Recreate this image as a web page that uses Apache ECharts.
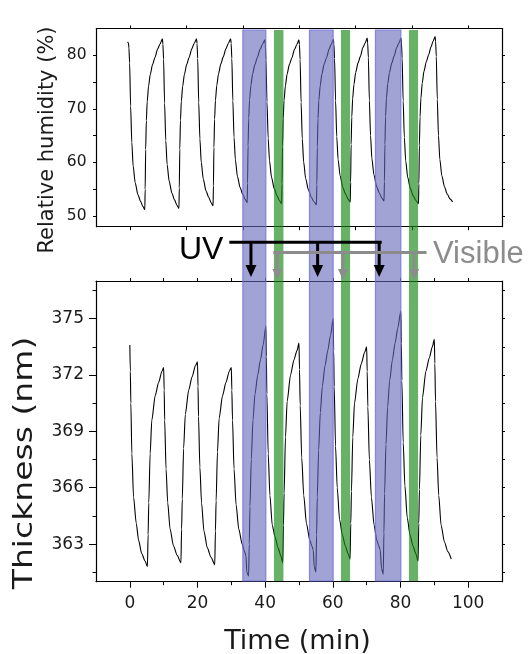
<!DOCTYPE html>
<html>
<head>
<meta charset="utf-8">
<script src="https://cdn.jsdelivr.net/npm/echarts@6/dist/echarts.min.js"></script>
<style>
  html, body { margin: 0; padding: 0; background: #ffffff; }
  #chart { width: 530px; height: 654px; }
</style>
</head>
<body>
<div id="chart"></div>
<script>
// Relative humidity (%) vs time (min)
const humidityData = [
  [-0.8, 82.5], [-0.55, 82.3], [-0.4, 81.4], [-0.2, 78.6], [0.1, 70.5], [0.45, 63.7], [0.85, 59.3], [1.45, 56.2], [2.25, 54.0], [3.0, 52.8], [3.7, 51.8], [4.3, 51.2],
  [4.4, 55.0], [4.55, 62.4], [4.75, 67.8], [5.0, 71.3], [5.4, 74.2], [5.9, 76.4], [6.6, 78.3], [7.3, 79.6], [8.1, 81.2], [8.8, 82.1], [9.5, 83.1],
  [9.65, 82.1], [9.85, 79.3], [10.15, 71.1], [10.5, 64.1], [10.9, 59.6], [11.5, 56.5], [12.3, 54.3], [13.1, 53.0], [13.8, 52.0], [14.4, 51.4],
  [14.5, 55.2], [14.65, 62.5], [14.85, 67.9], [15.1, 71.4], [15.5, 74.2], [16.0, 76.4], [16.7, 78.3], [17.4, 79.6], [18.2, 81.2], [18.9, 82.2], [19.6, 83.1],
  [19.75, 82.2], [19.95, 79.4], [20.25, 71.2], [20.6, 64.4], [21.0, 60.0], [21.6, 56.9], [22.4, 54.7], [23.2, 53.5], [23.9, 52.5], [24.5, 51.9],
  [24.6, 55.6], [24.75, 62.8], [24.95, 68.1], [25.2, 71.6], [25.6, 74.4], [26.1, 76.5], [26.8, 78.4], [27.5, 79.7], [28.3, 81.2], [29.0, 82.2], [29.7, 83.1],
  [29.85, 82.2], [30.05, 79.4], [30.35, 71.5], [30.7, 64.7], [31.1, 60.5], [31.7, 57.4], [32.5, 55.3], [33.3, 54.0], [34.0, 53.1], [34.6, 52.5],
  [34.7, 56.1], [34.85, 63.1], [35.05, 68.3], [35.3, 71.7], [35.7, 74.4], [36.2, 76.5], [36.9, 78.3], [37.6, 79.6], [38.4, 81.1], [39.1, 82.0], [39.8, 82.9],
  [39.95, 82.0], [40.15, 79.2], [40.45, 71.3], [40.8, 64.5], [41.2, 60.3], [41.8, 57.2], [42.6, 55.1], [43.4, 53.8], [44.1, 52.9], [44.8, 52.3],
  [44.9, 56.0], [45.05, 63.0], [45.25, 68.2], [45.5, 71.6], [45.9, 74.3], [46.4, 76.5], [47.1, 78.3], [47.8, 79.5], [48.6, 81.1], [49.3, 82.0], [49.9, 82.9],
  [50.05, 82.0], [50.25, 79.2], [50.55, 71.2], [50.9, 64.4], [51.3, 60.1], [51.9, 57.0], [52.7, 54.9], [53.5, 53.6], [54.3, 52.7], [55.1, 52.1],
  [55.2, 55.8], [55.35, 62.9], [55.55, 68.2], [55.8, 71.6], [56.2, 74.3], [56.7, 76.5], [57.4, 78.4], [58.1, 79.6], [58.8, 81.1], [59.5, 82.1], [60.1, 83.0],
  [60.25, 82.1], [60.45, 79.4], [60.75, 71.5], [61.1, 64.8], [61.5, 60.5], [62.1, 57.5], [62.9, 55.3], [63.7, 54.1], [64.4, 53.2], [65.1, 52.6],
  [65.2, 56.3], [65.35, 63.3], [65.55, 68.5], [65.8, 71.9], [66.2, 74.6], [66.7, 76.8], [67.4, 78.6], [68.1, 79.8], [68.8, 81.4], [69.5, 82.3], [70.1, 83.2],
  [70.25, 82.3], [70.45, 79.6], [70.75, 71.6], [71.1, 65.0], [71.5, 60.7], [72.1, 57.7], [72.9, 55.5], [73.7, 54.3], [74.4, 53.4], [75.1, 52.8],
  [75.2, 56.4], [75.35, 63.4], [75.55, 68.6], [75.8, 72.0], [76.2, 74.7], [76.7, 76.8], [77.4, 78.6], [78.1, 79.9], [78.8, 81.4], [79.5, 82.3], [80.1, 83.2],
  [80.25, 82.3], [80.45, 79.5], [80.75, 71.5], [81.1, 64.7], [81.5, 60.3], [82.1, 57.2], [82.9, 55.1], [83.7, 53.8], [84.5, 52.9], [85.3, 52.3],
  [85.4, 56.0], [85.55, 63.2], [85.75, 68.5], [86.0, 72.0], [86.4, 74.8], [86.9, 77.0], [87.6, 78.8], [88.3, 80.1], [89.0, 81.6], [89.6, 82.6], [90.2, 83.5],
  [90.35, 82.6], [90.55, 79.8], [90.85, 71.8], [91.2, 65.0], [91.6, 60.6], [92.2, 57.5], [93.0, 55.4], [93.8, 54.1], [94.6, 53.2], [95.4, 52.6]
];

// Film thickness (nm) vs time (min)
const thicknessData = [
  [0, 373.6], [0.15, 372.2], [0.3, 370.5], [0.6, 367.8], [1.1, 365.5], [1.9, 364.1], [2.6, 363.2], [3.5, 362.5], [4.5, 362.1], [5.2, 361.8],
  [5.4, 363.5], [5.6, 365.2], [6.0, 367.8], [6.5, 369.6], [7.5, 370.9], [8.5, 371.6], [9.5, 372.2], [10.0, 372.4],
  [10.15, 371.2], [10.3, 369.6], [10.7, 367.0], [11.2, 365.2], [11.9, 363.8], [12.9, 362.9], [14.0, 362.4], [15.1, 362.0],
  [15.3, 363.8], [15.5, 365.4], [15.9, 368.1], [16.4, 369.9], [17.4, 371.2], [18.4, 371.9], [19.4, 372.5], [20.0, 372.7],
  [20.15, 371.4], [20.3, 369.8], [20.7, 367.1], [21.2, 365.2], [21.9, 363.7], [22.9, 362.8], [24.0, 362.3], [25.1, 361.9],
  [25.3, 363.7], [25.5, 365.3], [25.9, 367.9], [26.4, 369.7], [27.4, 370.9], [28.4, 371.6], [29.4, 372.2], [30.0, 372.4],
  [30.15, 371.2], [30.35, 369.6], [30.8, 367.0], [31.4, 365.1], [32.2, 363.8], [33.2, 363.0], [33.9, 362.6], [34.3, 362.4], [34.6, 361.5], [35.1, 361.3],
  [35.3, 363.0], [35.5, 365.0], [35.9, 367.5], [36.4, 369.6], [37.0, 371.0], [37.8, 372.0], [38.6, 372.8], [39.4, 373.6], [40.2, 374.6],
  [40.35, 373.0], [40.5, 371.0], [40.9, 367.8], [41.4, 365.6], [42.1, 364.0], [42.9, 363.4], [43.8, 362.8], [44.6, 362.4], [45.2, 362.0],
  [45.4, 364.0], [45.6, 365.7], [46.0, 368.7], [46.5, 370.6], [47.5, 372.0], [48.5, 372.8], [49.4, 373.3], [50.0, 373.7],
  [50.15, 372.3], [50.35, 370.4], [50.8, 367.6], [51.4, 365.6], [52.2, 364.1], [53.2, 363.2], [53.8, 362.9], [54.2, 362.7], [54.5, 361.8], [55.0, 361.5],
  [55.2, 363.5], [55.4, 365.5], [55.8, 368.0], [56.3, 370.0], [56.9, 371.4], [57.7, 372.5], [58.5, 373.3], [59.3, 374.1], [60.1, 375.0],
  [60.25, 373.3], [60.4, 371.4], [60.8, 368.2], [61.3, 366.0], [62.0, 364.3], [62.8, 363.5], [63.7, 362.9], [64.5, 362.5], [65.1, 362.2],
  [65.3, 364.1], [65.5, 365.8], [65.9, 368.7], [66.4, 370.5], [67.4, 371.8], [68.4, 372.6], [69.4, 373.2], [70.0, 373.5],
  [70.15, 372.2], [70.35, 370.3], [70.8, 367.5], [71.4, 365.5], [72.2, 364.0], [73.0, 363.2], [73.6, 362.9], [74.0, 362.7], [74.4, 361.7], [74.9, 361.4],
  [75.1, 363.6], [75.3, 365.7], [75.7, 368.3], [76.2, 370.3], [76.8, 371.7], [77.6, 372.8], [78.4, 373.7], [79.2, 374.5], [80.1, 375.4],
  [80.25, 373.7], [80.4, 371.7], [80.8, 368.4], [81.3, 366.1], [82.0, 364.4], [82.8, 363.5], [83.7, 362.9], [84.5, 362.5], [85.2, 362.1],
  [85.4, 364.1], [85.6, 365.9], [86.0, 368.8], [86.5, 370.8], [87.5, 372.2], [88.5, 372.9], [89.4, 373.5], [90.0, 373.9],
  [90.15, 372.6], [90.35, 370.6], [90.8, 367.6], [91.3, 365.6], [92.0, 364.0], [93.0, 363.1], [94.0, 362.6], [95.0, 362.2]
];

// Illumination periods (min)
const uvBands = [[33.4, 40.2], [53.1, 60.1], [72.6, 80.1]];
const visibleBands = [[42.6, 45.4], [62.4, 65.1], [82.5, 85.2]];
const uvArrowTimes = [35.8, 55.5, 73.7];
const visibleArrowTimes = [43.6, 63.0, 84.0];
const uvLineSpan = [29.4, 74.0];
const visibleLineSpan = [42.4, 87.7];

// Ticks
const timeLabels = [0, 20, 40, 60, 80, 100];
const timeMinor = [10, 30, 50, 70, 90];
const timeTop = [0, 10, 20, 30, 40, 50, 60, 70, 80, 90, 100];
const humidityTimeTicksSec = [0, 1000, 2000, 3000, 4000, 5000, 6000];
const humidityLabels = [50, 60, 70, 80];
const humidityTicks = [50, 55, 60, 65, 70, 75, 80];
const thicknessLabels = [363, 366, 369, 372, 375];
const thicknessMinor = [361.5, 364.5, 367.5, 370.5, 373.5, 376.5];
const thicknessAll = [361.5, 363, 364.5, 366, 367.5, 369, 370.5, 372, 373.5, 375, 376.5];

const TIME_MIN = -10, TIME_MAX = 110;
const FONT = 'DejaVu Sans';
const INK = '#1a1a1a';

function tickAxis(gridIndex, position, min, max, ticks, len, showLine) {
  return {
    type: 'value', gridIndex, position, min, max,
    axisLine: { show: showLine, onZero: false, lineStyle: { color: '#000', width: 1.2 } },
    axisTick: { show: true, inside: false, length: len, customValues: ticks, lineStyle: { color: '#000', width: 1 } },
    axisLabel: { show: false },
    splitLine: { show: false }
  };
}
function withLabels(axis, values, fontSize, margin) {
  axis.axisLabel = { show: true, customValues: values, fontSize, fontFamily: FONT, color: INK, margin };
  return axis;
}

const chart = echarts.init(document.getElementById('chart'), null, { renderer: 'canvas' });

const xAxes = [
  tickAxis(0, 'bottom', TIME_MIN, TIME_MAX, humidityTimeTicksSec.map(s => s / 60), 3.5, true),
  tickAxis(0, 'top', TIME_MIN, TIME_MAX, humidityTimeTicksSec.map(s => s / 60), 3, true),
  withLabels(tickAxis(1, 'bottom', TIME_MIN, TIME_MAX, timeLabels, 6, true), timeLabels, 17, 13),
  tickAxis(1, 'bottom', TIME_MIN, TIME_MAX, timeMinor, 3.5, false),
  tickAxis(1, 'top', TIME_MIN, TIME_MAX, timeTop, 3, true),
  { type: 'value', gridIndex: 2, min: TIME_MIN, max: TIME_MAX, show: false }
];
const yAxes = [
  withLabels(tickAxis(0, 'left', 48, 85, humidityTicks, 3.5, true), humidityLabels, 15.5, 10),
  tickAxis(0, 'right', 48, 85, humidityTicks, 3, true),
  withLabels(tickAxis(1, 'left', 361, 377, thicknessLabels, 7, true), thicknessLabels, 17, 12),
  tickAxis(1, 'left', 361, 377, thicknessMinor, 3.5, false),
  tickAxis(1, 'right', 361, 377, thicknessAll, 3, true),
  { type: 'value', gridIndex: 2, min: 0, max: 1, show: false }
];

function bandSeries(bands, fill, stroke, z) {
  return {
    type: 'custom', xAxisIndex: 5, yAxisIndex: 5, z, silent: true, clip: false,
    dimensions: ['start', 'end'],
    encode: { x: [0, 1] },
    data: bands,
    renderItem(params, api) {
      const a = api.coord([api.value(0), 1]);
      const b = api.coord([api.value(1), 0]);
      return {
        type: 'rect',
        shape: { x: a[0], y: a[1], width: b[0] - a[0], height: b[1] - a[1] },
        style: { fill, stroke, lineWidth: stroke ? 1.2 : 0 }
      };
    }
  };
}

function traceSeries(xIdx, yIdx, data) {
  return {
    type: 'line', xAxisIndex: xIdx, yAxisIndex: yIdx, data, showSymbol: false,
    smooth: 0.25, smoothMonotone: 'x',
    lineStyle: { color: '#000', width: 1.1 }, z: 2, silent: true
  };
}

chart.setOption({
  animation: false,
  backgroundColor: '#ffffff',
  grid: [
    { left: 96.5, right: 28, top: 28.5, height: 198.2 },
    { left: 96, right: 28, top: 281, height: 300.7 },
    { left: 96, right: 28, top: 30, height: 551 }
  ],
  xAxis: xAxes,
  yAxis: yAxes,
  series: [
    traceSeries(0, 0, humidityData),
    traceSeries(2, 2, thicknessData),
    bandSeries(uvBands, 'rgba(97,102,183,0.6)', 'rgba(110,115,225,0.8)', 5),
    bandSeries(visibleBands, 'rgba(23,137,23,0.65)', null, 5)
  ]
});

// Light-source arrows and labels
function px(t) { return chart.convertToPixel({ xAxisIndex: 5 }, t); }

const BLACK = '#000000';
const GREY = '#8c8c8c';
const graphics = [];
const uvY = 242.3, visY = 252.5;

graphics.push({ type: 'line', z: 100, shape: { x1: px(uvLineSpan[0]), y1: uvY, x2: px(uvLineSpan[1]) + 1.5, y2: uvY }, style: { stroke: BLACK, lineWidth: 3 } });
uvArrowTimes.forEach(t => {
  const x = px(t);
  graphics.push({ type: 'line', z: 100, shape: { x1: x, y1: uvY, x2: x, y2: 266 }, style: { stroke: BLACK, lineWidth: 3 } });
  graphics.push({ type: 'polygon', z: 100, shape: { points: [[x - 5.5, 265], [x + 5.5, 265], [x, 277]] }, style: { fill: BLACK } });
});
graphics.push({ type: 'line', z: 101, shape: { x1: px(visibleLineSpan[0]), y1: visY, x2: px(visibleLineSpan[1]), y2: visY }, style: { stroke: GREY, lineWidth: 3 } });
visibleArrowTimes.forEach(t => {
  const x = px(t);
  graphics.push({ type: 'line', z: 101, shape: { x1: x, y1: visY, x2: x, y2: 270 }, style: { stroke: GREY, lineWidth: 3 } });
  graphics.push({ type: 'polygon', z: 101, shape: { points: [[x - 5, 269], [x + 5, 269], [x, 280]] }, style: { fill: GREY } });
});

graphics.push({ type: 'text', z: 102, x: 179, y: 250, style: { text: 'UV', fill: BLACK, fontSize: 32, fontFamily: 'Liberation Sans', align: 'left', verticalAlign: 'middle' } });
graphics.push({ type: 'text', z: 102, x: 433, y: 254.5, style: { text: 'Visible', fill: GREY, fontSize: 31, fontFamily: 'Liberation Sans', align: 'left', verticalAlign: 'middle' } });

// Axis titles
graphics.push({ type: 'text', z: 102, x: 297.5, y: 641.5, style: { text: 'Time (min)', fill: INK, fontSize: 27, fontFamily: FONT, align: 'center', verticalAlign: 'middle' } });
graphics.push({ type: 'text', z: 102, x: 47.5, y: 140, rotation: Math.PI / 2, style: { text: 'Relative humidity (%)', fill: INK, fontSize: 21, fontFamily: FONT, align: 'center', verticalAlign: 'middle' } });
// the thickness title is set wide along its baseline
graphics.push({ type: 'text', z: 102, x: 25, y: 463, rotation: Math.PI / 2, scaleX: 1.27, style: { text: 'Thickness (nm)', fill: INK, fontSize: 26, fontFamily: FONT, align: 'center', verticalAlign: 'middle' } });

chart.setOption({ graphic: graphics });
</script>
</body>
</html>
